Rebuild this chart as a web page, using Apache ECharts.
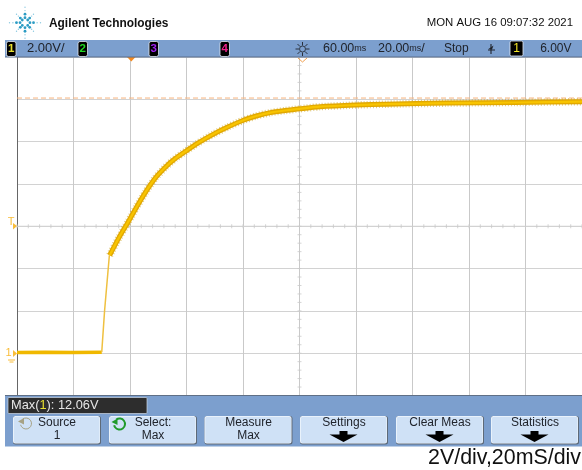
<!DOCTYPE html>
<html><head><meta charset="utf-8">
<style>html,body{margin:0;padding:0;background:#fff;overflow:hidden}#c{width:582px;height:470px}</style>
<script src="https://cdn.jsdelivr.net/npm/echarts@6/dist/echarts.min.js"></script>
</head><body><div id="c"></div>
<script>
// values: [time in ms from trigger, volts]
const baselineTrace = [[-40,0.03],[-30,0.04],[-20,0.03],[-10,0.05]];
const edgeTrace = [[-10,0.05],[-9,2.0],[-7.3,4.63]];
const riseTrace = [[-7.2,4.63],[-4.0,5.44],[-0.5,6.24],[2.3,6.90],[5.4,7.59],[8.9,8.27],[12.5,8.79],[16.0,9.20],[20.0,9.57],[24.0,9.93],[29.9,10.38],[34.6,10.69],[39.9,11.00],[44.7,11.21],[49.7,11.37],[54.9,11.47],[59.9,11.55],[67.2,11.65],[79.8,11.73],[90.7,11.77],[111.8,11.82],[136.3,11.85],[160,11.89]];
const measuredMax = 12.06;
const triggerLevel = 6;
const centerTime = 60;
const timeRange = [-40,160];
const voltRange = [-2,14];
const timeTicks = [];
for (let t=-40;t<=160;t+=4) timeTicks.push([t,triggerLevel]);
const voltTicks = [];
for (let v=-2;v<=14;v+=0.4) voltTicks.push([centerTime,+v.toFixed(1)]);
const channelLabels = ['1','2','3','4'];
const softKeys = [['Source','1'],['Select:','Max'],['Measure','Max'],['Settings',''],['Clear Meas',''],['Statistics','']];

const FONT='"Liberation Sans",Arial,sans-serif';
const BAR='#7c9fce', INK='#20242c', TRACE='#f0b800', GRID='#c9c9c9', GRIDH='#d2d2d2', MARK='#f9bd3a';
const g=[];
function rect(x,y,w,h,fill,r,extra){g.push(Object.assign({type:'rect',shape:{x,y,width:w,height:h,r:r||0},style:{fill},z:50},extra||{}));}
function text(x,y,t,size,fill,align,extra){g.push({type:'text',x,y,z:60,style:Object.assign({text:t,font:size+'px '+FONT,fill,align:align||'left',verticalAlign:'middle'},extra||{})});}

// header
text(49,23.5,'Agilent Technologies',11.9,'#111','left',{font:'bold 11.9px '+FONT});
text(573,23,'MON AUG 16 09:07:32 2021',11.4,'#111','right');
for(let i=0;i<8;i++){const a=i*Math.PI/4,R=i%2?12:15.5;
  for(const k of [0.32,0.55,0.78,1]){g.push({type:'circle',z:60,shape:{cx:25+Math.cos(a)*R*k,cy:22.7+Math.sin(a)*R*k,r:k<0.6?1.4:0.7},style:{fill:k<0.6?'#2b9cc4':'#8cc9e0'}});}}
// top bar
rect(5,40,577,17,BAR);
rect(5,56.5,577,1,'#5a6f8c');
const chipX=[6.5,78,149,220], chipC=['#e8e030','#22d822','#a020f0','#f0208a'];
channelLabels.forEach((c,i)=>{rect(chipX[i],41.5,9.5,15,'#000',2,{style:{fill:'#000',stroke:'#dfe6f0',lineWidth:0.8}});
  text(chipX[i]+4.8,49,c,11.5,chipC[i],'center',{font:'bold 11.5px '+FONT});});
text(27,48.5,'2.00V/',13,INK);
const sx=302.5,sy=49;
for(let i=0;i<8;i++){const a=i*Math.PI/4;g.push({type:'line',z:60,shape:{x1:sx+Math.cos(a)*3.5,y1:sy+Math.sin(a)*3.5,x2:sx+Math.cos(a)*7,y2:sy+Math.sin(a)*7},style:{stroke:INK,lineWidth:0.9}});}
g.push({type:'circle',z:60,shape:{cx:sx,cy:sy,r:3},style:{fill:'none',stroke:INK,lineWidth:0.8}});
const rich={s:{font:'9px '+FONT,fill:INK,verticalAlign:'middle'},n:{font:'12.5px '+FONT,fill:INK}};
g.push({type:'text',x:323,y:48.5,z:60,style:{text:'{n|60.00}{s|ms}',rich,verticalAlign:'middle'}});
g.push({type:'text',x:378,y:48.5,z:60,style:{text:'{n|20.00}{s|ms}{n|/}',rich,verticalAlign:'middle'}});
text(444,48.5,'Stop',12,INK);
g.push({type:'polyline',z:60,shape:{points:[[488,50],[491,50],[491,44],[491,54],[491,50],[495,50]]},style:{stroke:INK,fill:'none',lineWidth:1.1}});
g.push({type:'polygon',z:60,shape:{points:[[488.5,49],[493.5,45.5],[492,49.5]]},style:{fill:INK}});
rect(510,41,13,15,'#000',1.5,{style:{fill:'#000',stroke:'#e8eef6',lineWidth:0.8}});
text(516.5,49,'1',12,'#f5e626','center');
text(571.5,48.5,'6.00V',12,INK,'right');

// position markers
g.push({type:'polygon',z:40,shape:{points:[[127,57],[135.5,57],[131.3,61.5]]},style:{fill:'#f58a1f'}});
g.push({type:'polyline',z:40,shape:{points:[[298,58],[302.5,62],[307,58]]},style:{stroke:'#f0a050',fill:'none',lineWidth:1}});
text(11,221.5,'T',11,MARK,'center');
g.push({type:'polygon',z:40,shape:{points:[[13,223],[17,226],[13,229.5]]},style:{fill:MARK}});
text(8.5,353,'1',11,MARK,'center');
g.push({type:'polygon',z:40,shape:{points:[[13,350],[17,353.5],[13,357]]},style:{fill:MARK}});
g.push({type:'polyline',z:40,shape:{points:[[8,360],[15,360]]},style:{stroke:MARK,lineWidth:1}});
g.push({type:'polyline',z:40,shape:{points:[[9.5,362],[13.5,362]]},style:{stroke:MARK,lineWidth:1}});

// bottom panel
rect(5,395.5,577,51,BAR);
rect(5,395,577,1,'#5f6f86');
rect(8,397.5,139,16,'#2d2d2d',1,{style:{fill:'#2d2d2d',stroke:'#cfd8e4',lineWidth:0.7}});
g.push({type:'text',x:11,y:405.5,z:60,style:{text:'{w|Max(}{y|1}{w|): 12.06V}',verticalAlign:'middle',rich:{w:{font:'12.8px '+FONT,fill:'#e6e6e6'},y:{font:'12.8px '+FONT,fill:'#e8e030'}}}});
const keyX=[13,109,204.5,300,396,491];
softKeys.forEach((k,i)=>{const x=keyX[i],w=88;
  rect(x,416,w,28.5,'#5e6a78',2.5);
  rect(x,416,w-1,27.5,'#f0f6fd',2.5);
  rect(x+0.8,416.8,w-2.3,26.2,'#cfe1f6',2);
  const cx=x+w/2;
  text(cx,423,k[0],12,INK,'center');
  if(k[1]) text(cx,435.5,k[1],12,INK,'center');
  else { const m=x+w/2-0.5;
    g.push({type:'polygon',z:60,shape:{points:[[m-14,434.5],[m-4,434.5],[m-4,431],[m+4,431],[m+4,434.5],[m+14,434.5],[m,442]]},style:{fill:'#000'}});}
});
function arrowIcon(cx,cy,color,lw){
  g.push({type:'arc',z:60,shape:{cx,cy,r:5.5,startAngle:-2.2,endAngle:2.9,clockwise:true},style:{stroke:color,fill:'none',lineWidth:lw}});
  g.push({type:'polygon',z:60,shape:{points:[[cx-8,cy-2],[cx-2,cy-5.5],[cx-2,cy+1]]},style:{fill:color}});
}
arrowIcon(26,423.5,'#a7a284',1);
arrowIcon(119.5,424,'#1f9a2a',2);
text(581,458.5,'2V/div,20mS/div',21.4,'#111','right');

const traceBase={type:'line',showSymbol:false,symbol:'none',silent:true,animation:false};
const noise=(d)=>Object.assign({},traceBase,{data:d,smooth:0.2,z:4,lineStyle:{width:7.5,color:'#c9a227',opacity:0.55,type:[1,2],cap:'butt'}});
const option={
  animation:false,backgroundColor:'#fff',
  grid:{left:17,top:57,width:570,height:338.5,containLabel:false},
  xAxis:{type:'value',min:timeRange[0],max:timeRange[1],interval:20,axisLabel:{show:false},axisTick:{show:false},axisLine:{show:false},splitLine:{show:true,lineStyle:{color:GRID,width:1}}},
  yAxis:{type:'value',min:voltRange[0],max:voltRange[1],interval:2,axisLabel:{show:false},axisTick:{show:false},axisLine:{show:true,onZero:false,lineStyle:{color:'#666',width:1}},splitLine:{show:true,lineStyle:{color:GRIDH,width:1}}},
  series:[
    {type:'scatter',data:timeTicks,symbol:'rect',symbolSize:[1,4],itemStyle:{color:GRID},silent:true,z:2},
    {type:'scatter',data:voltTicks,symbol:'rect',symbolSize:[4,1],itemStyle:{color:GRID},silent:true,z:2},
    {type:'line',data:[[timeRange[0],triggerLevel],[timeRange[1],triggerLevel]],showSymbol:false,silent:true,z:2,lineStyle:{color:GRIDH,width:1}},
    {type:'line',data:[[centerTime,voltRange[0]],[centerTime,voltRange[1]]],showSymbol:false,silent:true,z:2,lineStyle:{color:GRID,width:1}},
    {type:'line',data:[[timeRange[0],measuredMax],[timeRange[1],measuredMax]],showSymbol:false,silent:true,z:3,lineStyle:{color:'#f6b27c',width:1,type:[5,3]}},
    noise(riseTrace),
    Object.assign({},traceBase,{data:baselineTrace,z:5,lineStyle:{width:3.5,color:TRACE,cap:'butt'}}),
    Object.assign({},traceBase,{data:edgeTrace,z:5,lineStyle:{width:1.5,color:'#efc040'}}),
    Object.assign({},traceBase,{data:riseTrace,smooth:0.2,z:5,lineStyle:{width:5,color:'#e2a800',join:'round'}}),
    Object.assign({},traceBase,{data:riseTrace,smooth:0.2,z:6,lineStyle:{width:2.2,color:'#f8c400',join:'round'}})
  ],
  graphic:{elements:g}
};
const chart=echarts.init(document.getElementById('c'),null,{renderer:'canvas',width:582,height:470});
chart.setOption(option);
</script></body></html>
